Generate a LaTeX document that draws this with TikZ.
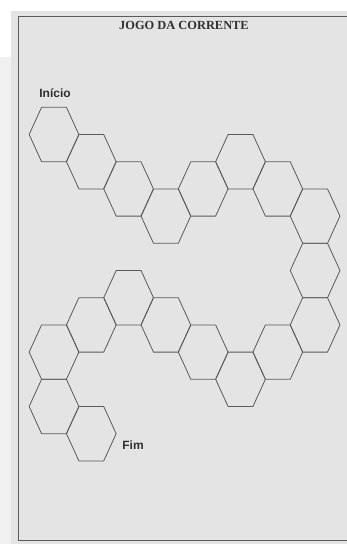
\documentclass[tikz,border=0pt]{standalone}
\usepackage{fontspec}
\usetikzlibrary{calc}
\setmainfont{Liberation Serif}
\newfontfamily\labelfont{Liberation Sans}
\definecolor{paper}{HTML}{E4E4E4}
\definecolor{strip}{HTML}{F0F0F0}
\definecolor{ink}{HTML}{5A5A5A}
\definecolor{txt}{HTML}{303030}
\begin{document}
\begin{tikzpicture}[x=1pt,y=-1pt,
  hexcell/.style={draw=ink, line width=0.8pt, line join=round},
  frameline/.style={draw=ink, line width=1pt},
  titletext/.style={text=txt, font=\bfseries\fontsize{12.4}{14}\selectfont},
  labeltext/.style={text=txt, font=\labelfont\bfseries\fontsize{12}{14}\selectfont}]
\useasboundingbox (0,0) rectangle (347,544);
\fill[white] (0,0) rectangle (347,544);
\fill[strip] (0,57) rectangle (11,544);
\fill[paper] (11,11) rectangle (347,544);
\draw[frameline] (347,16) -- (18.5,16) -- (18.5,540.5) -- (347,540.5);
\foreach \c/\j [count=\i] in {0/0,1/1,2/2,3/3,4/2,5/1,6/2,7/3,7/5,7/7,6/8,5/9,4/8,3/7,2/6,1/7,0/8,0/10,1/11}{
  \coordinate (h\i) at ({54+37.3*\c},{134.5+27.2*\j});
  \draw[hexcell] ($(h\i)+(-24.85,0)$) -- ++(12.43,-27.2) -- ++(24.85,0) -- ++(12.43,27.2)
     -- ++(-12.43,27.2) -- ++(-24.85,0) -- cycle;
}
\node[titletext] (title) at (184,25) {JOGO DA CORRENTE};
\node[labeltext] (inicio) at (55,93.5) {Início};
\node[labeltext] (fim) at (133,445) {Fim};
\end{tikzpicture}
\end{document}
